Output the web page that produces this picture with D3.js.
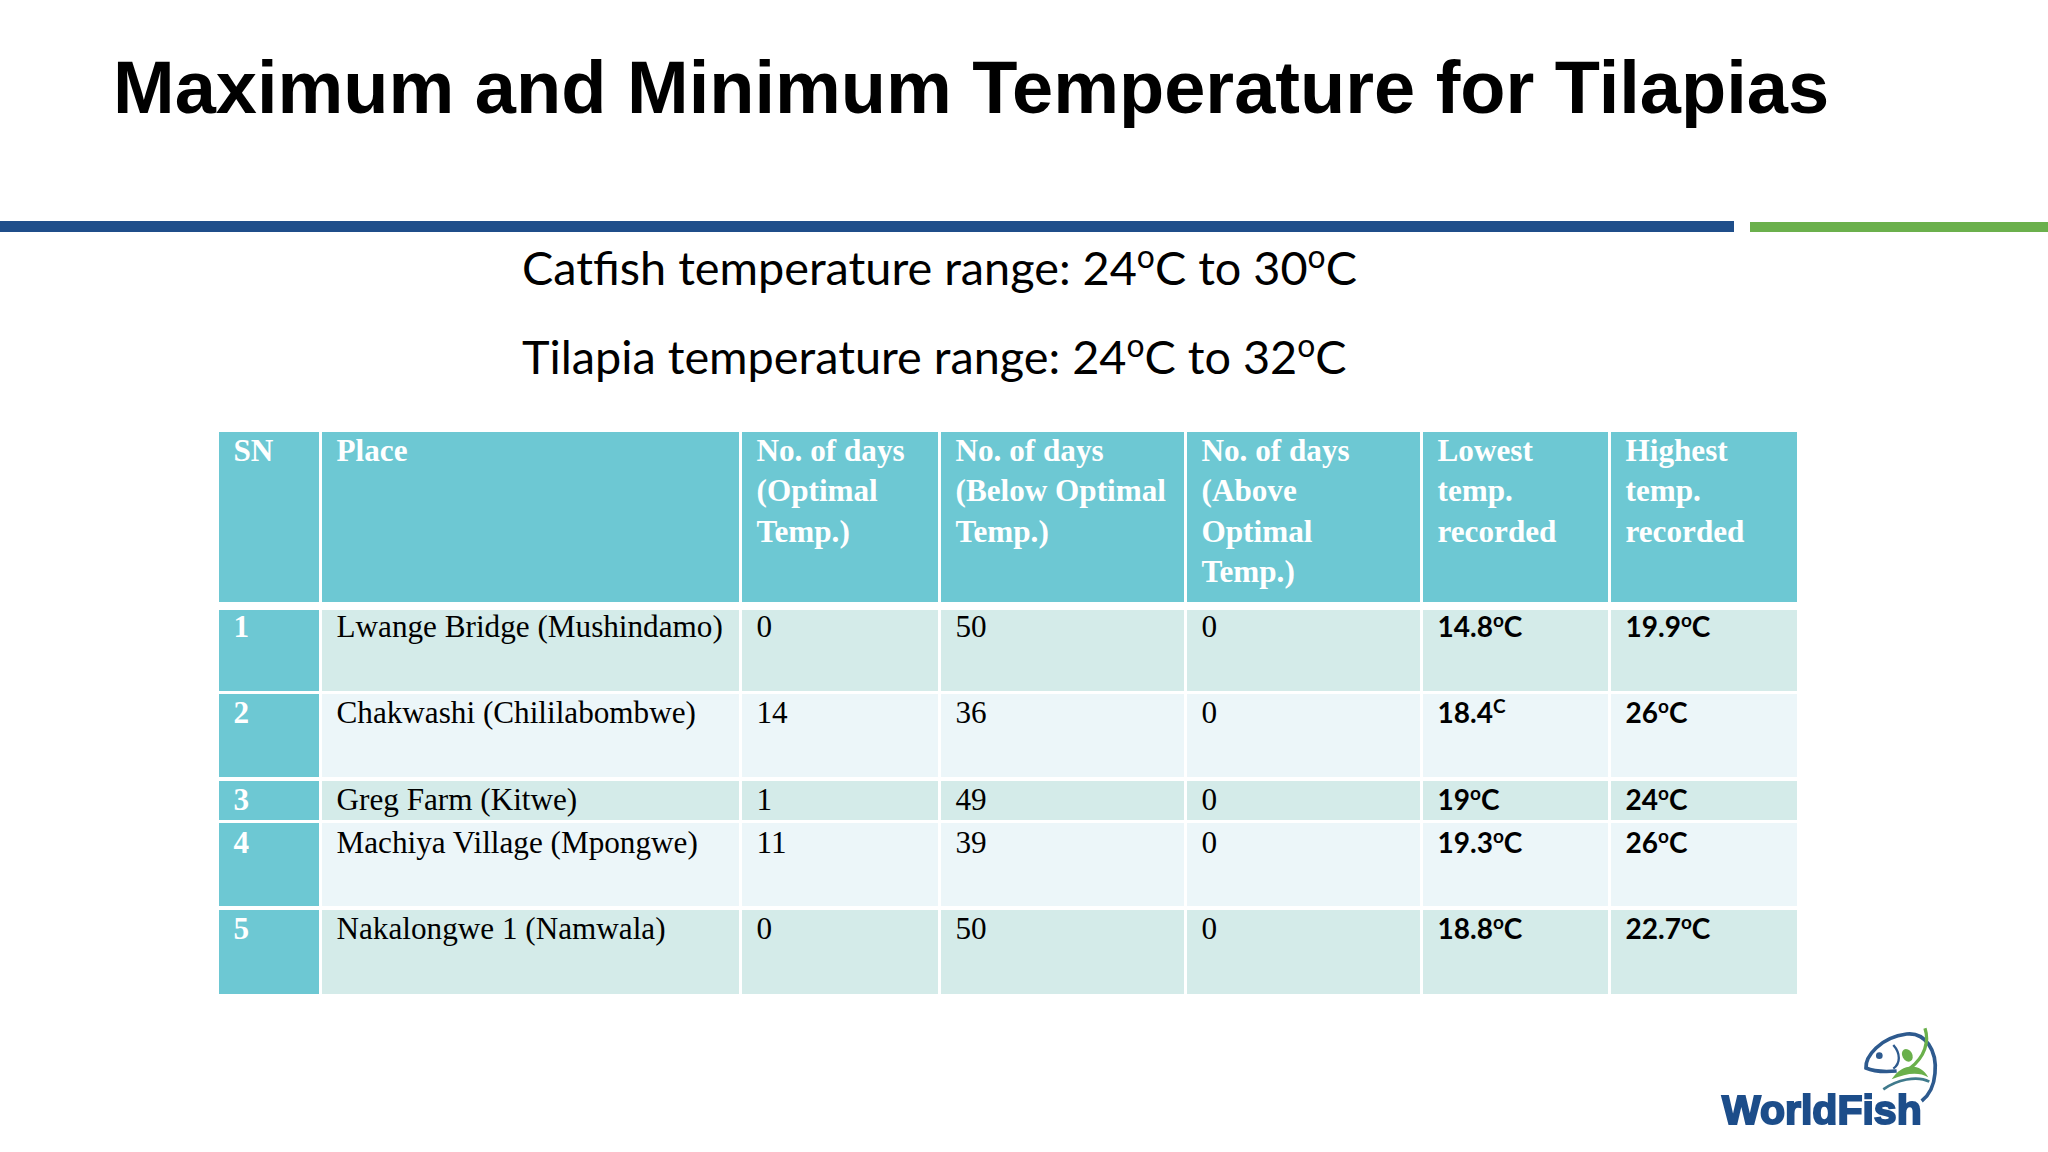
<!DOCTYPE html>
<html>
<head>
<meta charset="utf-8">
<title>Maximum and Minimum Temperature for Tilapias</title>
<script src="https://cdn.jsdelivr.net/npm/d3@7"></script>
<style>
  html, body { margin: 0; padding: 0; background: #fff; overflow: hidden; }
  svg { display: block; }
</style>
</head>
<body>
<svg id="slide" width="2048" height="1152"></svg>
<script>
///////////////////////////// DATA /////////////////////////////////////////////

const TITLE = "Maximum and Minimum Temperature for Tilapias";
const RANGES = ["Catfish temperature range: 24^oC to 30^oC", "Tilapia temperature range: 24^oC to 32^oC"];

const COLUMNS = ["sn", "place", "optimal", "below", "above", "lowest", "highest"];
const HEADERS = [
  ["SN"],
  ["Place"],
  ["No. of days", "(Optimal", "Temp.)"],
  ["No. of days", "(Below Optimal", "Temp.)"],
  ["No. of days", "(Above", "Optimal", "Temp.)"],
  ["Lowest", "temp.", "recorded"],
  ["Highest", "temp.", "recorded"]
];

const sn = ["1", "2", "3", "4", "5"];
const places = ["Lwange Bridge (Mushindamo)", "Chakwashi (Chililabombwe)", "Greg Farm (Kitwe)",
                "Machiya Village (Mpongwe)", "Nakalongwe 1 (Namwala)"];
const daysOptimal = [0, 14, 1, 11, 0];
const daysBelow = [50, 36, 49, 39, 50];
const daysAbove = [0, 0, 0, 0, 0];
const lowestTemp = ["14.8^oC", "18.4^C", "19^oC", "19.3^oC", "18.8^oC"];
const highestTemp = ["19.9^oC", "26^oC", "24^oC", "26^oC", "22.7^oC"];

///////////////////////////// LAYOUT /////////////////////////////////////////////

const COL_EDGES = [219, 322, 742, 941, 1187, 1423, 1611, 1800];
const ROW_EDGES = [[610, 691, 637], [694, 777, 723], [781, 820, 810], [823, 906, 853], [910, 994, 939]];
const HEAD_TOP = 432, HEAD_BOTTOM = 602, HEAD_LINE = 40.3;
const COL_GAP = 3;
const PAD_X = 14.5;

const HEAD_COLOR = "#6dc8d3";
const ODD_COLOR = "#d4ebe9";
const EVEN_COLOR = "#ecf6f9";
const SERIF = "'Liberation Serif', serif";
const SANS = "Lato, 'Noto Sans', sans-serif";

var colLeft = d3.scaleOrdinal(COLUMNS, COL_EDGES.slice(0, -1));
var colRight = d3.scaleOrdinal(COLUMNS, COL_EDGES.slice(1));
var rowTop = d3.scaleOrdinal(sn, ROW_EDGES.map(function(r) { return r[0]; }));
var rowBottom = d3.scaleOrdinal(sn, ROW_EDGES.map(function(r) { return r[1]; }));
var rowBase = d3.scaleOrdinal(sn, ROW_EDGES.map(function(r) { return r[2]; }));

var svg = d3.select("#slide");

// writes "24^oC" as text with the character after ^ raised
function appendSuper(textSel, str, size) {
  var parts = str.split(/\^(.)/);
  var raise = Math.round(size * 0.36);
  var pending = 0;
  parts.forEach(function(part, i) {
    if (part === "") return;
    var isSuper = i % 2 == 1;
    var span = textSel.append("tspan").text(part);
    if (isSuper) {
      span.attr("dy", -raise).attr("font-size", size * 0.68);
      pending = raise;
    } else if (pending) {
      span.attr("dy", pending);
      pending = 0;
    }
  });
}

///////////////////////////// HEADER BAND /////////////////////////////////////////////

svg.append("text").attr("x", 113).attr("y", 113)
  .attr("font-family", "'Liberation Sans', Arial, sans-serif")
  .attr("font-weight", "bold").attr("font-size", 74).attr("fill", "#000")
  .text(TITLE);

svg.append("rect").attr("x", 0).attr("y", 221).attr("width", 1734).attr("height", 11).attr("fill", "#1f4e8a");
svg.append("rect").attr("x", 1750).attr("y", 222).attr("width", 298).attr("height", 10).attr("fill", "#6bb04c");

svg.selectAll("text.range").data(RANGES).enter().append("text")
  .attr("class", "range")
  .attr("x", 522)
  .attr("y", function(d, i) { return 285 + i * 89; })
  .attr("font-family", SANS).attr("font-size", 46.8).attr("fill", "#000")
  .each(function(d) { appendSuper(d3.select(this), d, 46.8); });

///////////////////////////// TABLE /////////////////////////////////////////////

var head = svg.append("g").attr("class", "head");
var headCols = head.selectAll("g").data(COLUMNS).enter().append("g");
headCols.append("rect")
  .attr("x", colLeft)
  .attr("y", HEAD_TOP)
  .attr("width", function(c) { return colRight(c) - colLeft(c) - COL_GAP; })
  .attr("height", HEAD_BOTTOM - HEAD_TOP)
  .attr("fill", HEAD_COLOR);
headCols.each(function(c, i) {
  d3.select(this).selectAll("text").data(HEADERS[i]).enter().append("text")
    .attr("x", colLeft(c) + PAD_X)
    .attr("y", function(d, j) { return HEAD_TOP + 29 + j * HEAD_LINE; })
    .attr("font-family", SERIF).attr("font-weight", "bold").attr("font-size", 31.2).attr("fill", "#fff")
    .text(function(d) { return d; });
});

var rowData = sn.map(function(id, i) {
  return { id: id, sn: id, place: places[i], optimal: daysOptimal[i], below: daysBelow[i],
           above: daysAbove[i], lowest: lowestTemp[i], highest: highestTemp[i], odd: i % 2 == 0 };
});

var rows = svg.append("g").attr("class", "rows").selectAll("g").data(rowData).enter().append("g");

COLUMNS.forEach(function(c) {
  rows.append("rect")
    .attr("x", colLeft(c))
    .attr("y", function(d) { return rowTop(d.id); })
    .attr("width", colRight(c) - colLeft(c) - COL_GAP)
    .attr("height", function(d) { return rowBottom(d.id) - rowTop(d.id); })
    .attr("fill", function(d) { return c == "sn" ? HEAD_COLOR : (d.odd ? ODD_COLOR : EVEN_COLOR); });

  var isTemp = c == "lowest" || c == "highest";
  rows.append("text")
    .attr("x", colLeft(c) + PAD_X)
    .attr("y", function(d) { return rowBase(d.id); })
    .attr("font-family", isTemp ? SANS : SERIF)
    .attr("font-weight", isTemp || c == "sn" ? "bold" : "normal")
    .attr("font-size", isTemp ? 28 : 31.2)
    .attr("fill", c == "sn" ? "#fff" : "#000")
    .each(function(d) { appendSuper(d3.select(this), String(d[c]), isTemp ? 28 : 31.2); });
});

///////////////////////////// LOGO /////////////////////////////////////////////

var defs = svg.append("defs");
defs.append("filter").attr("id", "soft").append("feGaussianBlur").attr("stdDeviation", 0.7);

var logo = svg.append("g").attr("filter", "url(#soft)")
  .attr("transform", "translate(1680,1000) scale(0.3333)");

logo.append("path").attr("fill", "none").attr("stroke", "#2d5a8e").attr("stroke-width", 11)
  .attr("d", "M650,213 C615,216 580,214 558,204 C556,170 600,112 680,102 C735,96 772,150 765,220 C762,258 748,285 725,303");
logo.append("path").attr("fill", "none").attr("stroke", "#2d5a8e").attr("stroke-width", 7)
  .attr("d", "M640,135 C662,160 662,190 640,206");
logo.append("circle").attr("cx", 598).attr("cy", 167).attr("r", 10).attr("fill", "#2d5a8e");
logo.append("path").attr("fill", "none").attr("stroke", "#6bb04c").attr("stroke-width", 10)
  .attr("d", "M735,85 C748,125 735,170 690,205");
logo.append("ellipse").attr("cx", 682).attr("cy", 166).attr("rx", 15).attr("ry", 20)
  .attr("transform", "rotate(-30 682 166)").attr("fill", "#6bb04c");
logo.append("path").attr("fill", "#6bb04c")
  .attr("d", "M635,238 C665,190 720,185 745,232 C715,215 680,220 635,238 Z");
logo.append("path").attr("fill", "none").attr("stroke", "#3f7a8c").attr("stroke-width", 8)
  .attr("d", "M610,268 C650,240 710,225 748,245");

svg.append("text").attr("x", 1722).attr("y", 1124)
  .attr("font-family", "'Liberation Sans', Arial, sans-serif")
  .attr("font-weight", "bold").attr("font-size", 41).attr("fill", "#1f4e8a")
  .attr("stroke", "#1f4e8a").attr("stroke-width", 2)
  .attr("filter", "url(#soft)")
  .text("WorldFish");
</script>
</body>
</html>
